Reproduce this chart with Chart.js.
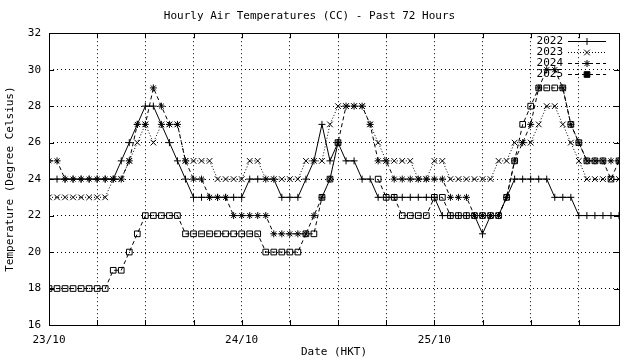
<!DOCTYPE html>
<html>
<head>
<meta charset="utf-8">
<title>Hourly Air Temperatures (CC)</title>
<script src="https://cdn.jsdelivr.net/npm/chart.js@4.4.0/dist/chart.umd.min.js"></script>
<style>
  html, body { margin: 0; padding: 0; background: #fff; }
  canvas { display: block; }
</style>
</head>
<body>
<canvas id="tempChart" width="640" height="360"></canvas>
<script>
// hours since 23/10 00:00 HKT (72 hourly readings)
const hours = Array.from({ length: 72 }, (_, i) => i);

// x axis: grid every 6 hours, dates at midnight
const gridHours = [0, 6, 12, 18, 24, 30, 36, 42, 48, 54, 60, 66];
const dateHours = [0, 24, 48];
const dateLabels = ['23/10', '24/10', '25/10'];

const seriesNames = ['2022', '2023', '2024', '2025'];

const temps2022 = [24, 24, 24, 24, 24, 24, 24, 24, 24, 25, 26, 27, 28, 28, 27, 26, 25, 24,
  23, 23, 23, 23, 23, 23, 23, 24, 24, 24, 24, 23, 23, 23, 24, 25, 27, 25,
  26, 25, 25, 24, 24, 23, 23, 23, 23, 23, 23, 23, 23, 22, 22, 22, 22, 22,
  21, 22, 22, 23, 24, 24, 24, 24, 24, 23, 23, 23, 22, 22, 22, 22, 22, 22];

const temps2023 = [23, 23, 23, 23, 23, 23, 23, 23, 24, 24, 25, 26, 27, 26, 27, 27, 27, 25,
  25, 25, 25, 24, 24, 24, 24, 25, 25, 24, 24, 24, 24, 24, 25, 25, 25, 27,
  28, 28, 28, 28, 27, 26, 25, 25, 25, 25, 24, 24, 25, 25, 24, 24, 24, 24,
  24, 24, 25, 25, 26, 26, 26, 27, 28, 28, 27, 26, 25, 24, 24, 24, 24, 24];

const temps2024 = [25, 25, 24, 24, 24, 24, 24, 24, 24, 24, 25, 27, 27, 29, 28, 27, 27, 25,
  24, 24, 23, 23, 23, 22, 22, 22, 22, 22, 21, 21, 21, 21, 21, 22, 23, 24,
  26, 28, 28, 28, 27, 25, 25, 24, 24, 24, 24, 24, 24, 24, 23, 23, 23, 22,
  22, 22, 22, 23, 25, 26, 27, 29, 30, 30, 29, 27, 26, 25, 25, 25, 25, 25];

const temps2025 = [18, 18, 18, 18, 18, 18, 18, 18, 19, 19, 20, 21, 22, 22, 22, 22, 22, 21,
  21, 21, 21, 21, 21, 21, 21, 21, 21, 20, 20, 20, 20, 20, 21, 21, 23, 24,
  26, null, null, null, null, 24, 23, 23, 22, 22, 22, 22, 23, 23, 22, 22, 22, 22,
  22, 22, 22, 23, 25, 27, 28, 29, 29, 29, 29, 27, 26, 25, 25, 25, 24, 25];

const monoFont = { family: "'DejaVu Sans Mono', monospace", size: 11 };
Chart.defaults.font.family = monoFont.family;
Chart.defaults.font.size = monoFont.size;
Chart.defaults.color = '#000';

// white page behind the plot
const whiteBg = {
  id: 'whiteBg',
  beforeDraw(chart) {
    const c = chart.ctx;
    c.save();
    c.fillStyle = '#fff';
    c.fillRect(0, 0, chart.width, chart.height);
    c.restore();
  }
};

// gnuplot style frame with inward ticks on all four sides
const frameTicks = {
  id: 'frameTicks',
  afterDatasetsDraw(chart) {
    const c = chart.ctx;
    const a = chart.chartArea;
    const xs = chart.scales.x, ys = chart.scales.y;
    const len = 5;
    c.save();
    c.strokeStyle = '#000';
    c.lineWidth = 1;
    c.setLineDash([]);
    c.beginPath();
    xs.ticks.forEach(t => {
      const px = Math.round(xs.getPixelForValue(t.value)) + 0.5;
      c.moveTo(px, a.top); c.lineTo(px, a.top + len);
      c.moveTo(px, a.bottom); c.lineTo(px, a.bottom - len);
    });
    ys.ticks.forEach(t => {
      const py = Math.round(ys.getPixelForValue(t.value)) + 0.5;
      c.moveTo(a.left, py); c.lineTo(a.left + len, py);
      c.moveTo(a.right, py); c.lineTo(a.right - len, py);
    });
    c.stroke();
    c.strokeRect(Math.round(a.left) + 0.5, Math.round(a.top) + 0.5,
      Math.round(a.right - a.left), Math.round(a.bottom - a.top));
    c.restore();
  }
};

// key in the top right corner: name, then line sample with its marker
const keyBox = {
  id: 'keyBox',
  afterDatasetsDraw(chart) {
    const c = chart.ctx;
    const a = chart.chartArea;
    c.save();
    c.font = '11px ' + monoFont.family;
    c.textAlign = 'right';
    c.textBaseline = 'middle';
    c.fillStyle = '#000';
    chart.data.datasets.forEach((ds, i) => {
      const y = a.top + 8 + i * 11;
      const x0 = a.right - 51, x1 = a.right - 13;
      c.fillText(ds.label, a.right - 56, y);
      c.strokeStyle = '#000';
      c.lineWidth = 1;
      c.setLineDash(ds.borderDash || []);
      c.beginPath();
      c.moveTo(x0, Math.round(y) + 0.5);
      c.lineTo(x1, Math.round(y) + 0.5);
      c.stroke();
      c.setLineDash([]);
      Chart.helpers.drawPoint(c, {
        pointStyle: ds.pointStyle,
        radius: ds.pointRadius,
        rotation: 0,
        borderWidth: 1
      }, (x0 + x1) / 2, Math.round(y) + 0.5);
    });
    c.restore();
  }
};

function series(label, data, dash, style, radius) {
  return {
    label: label,
    data: data,
    borderColor: '#000',
    borderWidth: 1,
    borderDash: dash,
    pointStyle: style,
    pointRadius: radius,
    pointBorderColor: '#000',
    pointBackgroundColor: 'rgba(0,0,0,0)',
    pointBorderWidth: 1,
    fill: false,
    tension: 0,
    spanGaps: false
  };
}

new Chart(document.getElementById('tempChart'), {
  type: 'line',
  data: {
    labels: hours,
    datasets: [
      series(seriesNames[0], temps2022, [], 'cross', 3.5),
      series(seriesNames[1], temps2023, [1, 2], 'crossRot', 4),
      series(seriesNames[2], temps2024, [4, 3], 'star', 3.5),
      series(seriesNames[3], temps2025, [4, 3], 'rect', 4)
    ]
  },
  options: {
    responsive: false,
    animation: false,
    devicePixelRatio: 1,
    layout: { padding: { left: 0, right: 21, top: 0, bottom: 0 } },
    plugins: {
      legend: { display: false },
      tooltip: { enabled: false },
      title: {
        display: true,
        text: 'Hourly Air Temperatures (CC) - Past 72 Hours',
        font: { family: monoFont.family, size: 11, weight: 'normal' },
        color: '#000',
        padding: { top: 10, bottom: 10 }
      }
    },
    scales: {
      x: {
        type: 'linear',
        min: 0,
        max: 71,
        afterBuildTicks: axis => { axis.ticks = gridHours.map(v => ({ value: v })); },
        afterFit: scale => { scale.height = 35; },
        ticks: {
          autoSkip: false,
          maxRotation: 0,
          padding: 9,
          font: monoFont,
          color: '#000',
          callback: v => {
            const i = dateHours.indexOf(v);
            return i >= 0 ? dateLabels[i] : '';
          }
        },
        grid: { color: '#000', lineWidth: 1, drawTicks: false },
        border: { display: false, dash: [1, 3] },
        title: {
          display: true,
          text: 'Date (HKT)',
          font: monoFont,
          color: '#000',
          padding: { top: 0, bottom: 1.5 }
        }
      },
      y: {
        type: 'linear',
        min: 16,
        max: 32,
        afterFit: scale => { scale.width = 49; },
        ticks: { stepSize: 2, padding: 8, font: monoFont, color: '#000' },
        grid: { color: '#000', lineWidth: 1, drawTicks: false },
        border: { display: false, dash: [1, 3] },
        title: {
          display: true,
          text: 'Temperature (Degree Celsius)',
          font: monoFont,
          color: '#000',
          padding: { top: 3.4, bottom: 0 }
        }
      }
    }
  },
  plugins: [whiteBg, frameTicks, keyBox]
});
</script>
</body>
</html>
